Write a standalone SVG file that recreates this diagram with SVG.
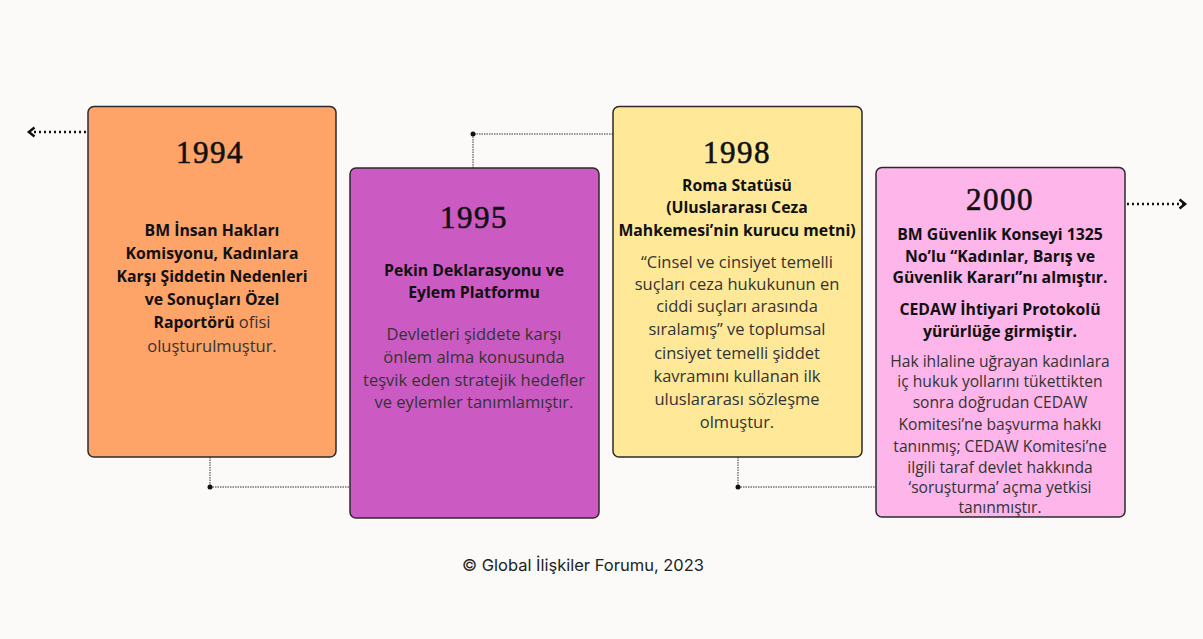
<svg xmlns="http://www.w3.org/2000/svg" width="1203" height="639" viewBox="0 0 1203 639">
<defs>
<style>
.box{stroke:#2e2a2c;stroke-width:1.5}
.yr{font-family:"Liberation Serif",serif;font-size:31px;fill:#111;stroke:#111;stroke-width:0.6;text-anchor:middle;letter-spacing:1.5px}
.b{font-family:"Open Sans",sans-serif;font-weight:700;font-size:15.8px;fill:#111;text-anchor:middle}
.r{font-family:"Open Sans",sans-serif;font-size:16.5px;fill:#333;text-anchor:middle}
.s{font-family:"Open Sans",sans-serif;font-size:15.6px;fill:#333;text-anchor:middle}
.ln{fill:none;stroke:#333;stroke-width:1;stroke-dasharray:1.5 1}
.ar{fill:none;stroke:#111;stroke-width:2.5;stroke-dasharray:2 3}
</style>
<marker id="ah" viewBox="0 0 10 10" refX="5" refY="5" markerWidth="4.5" markerHeight="4.5" orient="auto">
<path d="M1,1 L6,5 L1,9" fill="none" stroke="#111" stroke-width="2.2"/>
</marker>
</defs>
<rect width="1203" height="639" fill="#fbfaf8"/>
<g id="connectors">
<line class="ar" x1="86" y1="132" x2="30" y2="132" marker-end="url(#ah)"/>
<line class="ar" x1="1127" y1="204" x2="1184" y2="204" marker-end="url(#ah)"/>
<polyline class="ln" points="473,168 473,134 613,134"/>
<circle cx="473" cy="134" r="2.5" fill="#111"/>
<polyline class="ln" points="210,457 210,487 350,487"/>
<circle cx="210" cy="487" r="2.5" fill="#111"/>
<polyline class="ln" points="738,457 738,487 876,487"/>
<circle cx="738" cy="487" r="2.5" fill="#111"/>
</g>
<g id="node-1994">
<rect class="box" x="88" y="106.5" width="248" height="350.5" rx="6" fill="#ffa468"/>
<text class="yr" x="210" y="163">1994</text>
<text class="b" x="212" y="236">BM İnsan Hakları</text>
<text class="b" x="212" y="259">Komisyonu, Kadınlara</text>
<text class="b" x="212" y="282">Karşı Şiddetin Nedenleri</text>
<text class="b" x="212" y="305">ve Sonuçları Özel</text>
<text class="b" x="212" y="328"><tspan>Raportörü</tspan><tspan font-weight="400" fill="#333" font-size="16.5px"> ofisi</tspan></text>
<text class="r" x="212" y="352">oluşturulmuştur.</text>
</g>
<g id="node-1995">
<rect class="box" x="350" y="168" width="249" height="350" rx="6" fill="#cb5bc3"/>
<text class="yr" x="474" y="228">1995</text>
<text class="b" x="474" y="276">Pekin Deklarasyonu ve</text>
<text class="b" x="474" y="298">Eylem Platformu</text>
<text class="r" x="474" y="340">Devletleri şiddete karşı</text>
<text class="r" x="474" y="363">önlem alma konusunda</text>
<text class="r" x="474" y="386">teşvik eden stratejik hedefler</text>
<text class="r" x="474" y="408">ve eylemler tanımlamıştır.</text>
</g>
<g id="node-1998">
<rect class="box" x="613" y="106.5" width="249" height="350.5" rx="6" fill="#ffe999"/>
<text class="yr" x="737" y="163">1998</text>
<text class="b" x="737" y="191">Roma Statüsü</text>
<text class="b" x="737" y="213">(Uluslararası Ceza</text>
<text class="b" x="737" y="236">Mahkemesi’nin kurucu metni)</text>
<text class="r" x="737" y="268">“Cinsel ve cinsiyet temelli</text>
<text class="r" x="737" y="290">suçları ceza hukukunun en</text>
<text class="r" x="737" y="312">ciddi suçları arasında</text>
<text class="r" x="737" y="335">sıralamış” ve toplumsal</text>
<text class="r" x="737" y="359">cinsiyet temelli şiddet</text>
<text class="r" x="737" y="382">kavramını kullanan ilk</text>
<text class="r" x="737" y="405">uluslararası sözleşme</text>
<text class="r" x="737" y="428">olmuştur.</text>
</g>
<g id="node-2000">
<rect class="box" x="876" y="167.5" width="249" height="349.5" rx="6" fill="#fdb5ea"/>
<text class="yr" x="1000" y="210">2000</text>
<text class="b" x="1000" y="240">BM Güvenlik Konseyi 1325</text>
<text class="b" x="1000" y="262">No’lu “Kadınlar, Barış ve</text>
<text class="b" x="1000" y="283">Güvenlik Kararı”nı almıştır.</text>
<text class="b" x="1000" y="315">CEDAW İhtiyari Protokolü</text>
<text class="b" x="1000" y="337">yürürlüğe girmiştir.</text>
<text class="s" x="1000" y="367">Hak ihlaline uğrayan kadınlara</text>
<text class="s" x="1000" y="387">iç hukuk yollarını tükettikten</text>
<text class="s" x="1000" y="408">sonra doğrudan CEDAW</text>
<text class="s" x="1000" y="430">Komitesi’ne başvurma hakkı</text>
<text class="s" x="1000" y="452">tanınmış; CEDAW Komitesi’ne</text>
<text class="s" x="1000" y="473">ilgili taraf devlet hakkında</text>
<text class="s" x="1000" y="493">‘soruşturma’ açma yetkisi</text>
<text class="s" x="1000" y="513">tanınmıştır.</text>
</g>
<text x="583" y="571" font-family="Inter,Roboto,sans-serif" font-size="16.5px" fill="#222" text-anchor="middle">© Global İlişkiler Forumu, 2023</text>
</svg>
